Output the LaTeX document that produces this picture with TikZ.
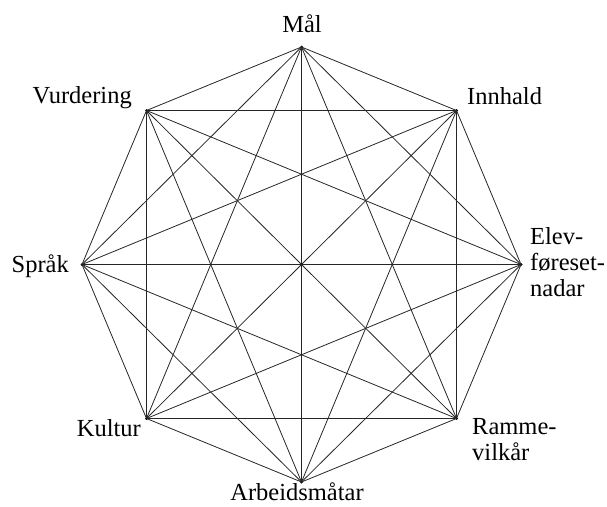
\documentclass[tikz,border=0pt]{standalone}
\usepackage{fontspec}
\setmainfont{Liberation Serif}
\begin{document}
\begin{tikzpicture}[x=1pt,y=-1pt,
  lbl/.style={inner sep=0pt, font=\fontsize{24.5}{26}\selectfont},
  edge/.style={line width=0.8pt, black!85},
  vdot/.style={circle, fill=black, inner sep=0pt, minimum size=3pt}]
\useasboundingbox (0,0) rectangle (607,506);
\node[vdot] (v1) at (301.5,47) {};
\node[vdot] (v2) at (456.5,110.5) {};
\node[vdot] (v3) at (521,264.5) {};
\node[vdot] (v4) at (456.5,418.5) {};
\node[vdot] (v5) at (301.5,482) {};
\node[vdot] (v6) at (146.5,418.5) {};
\node[vdot] (v7) at (82,264.5) {};
\node[vdot] (v8) at (146.5,110.5) {};
\foreach \a in {1,...,8}{
  \foreach \b in {1,...,8}{
    \ifnum\a<\b \draw[edge] (v\a.center) -- (v\b.center); \fi
  }
}
\node[lbl, anchor=base] (l1) at (302,32) {Mål};
\node[lbl, anchor=base west] (l2) at (467,104.5) {Innhald};
\node[lbl, anchor=west, align=left] (l3) at (530,262.6) {Elev-\\føreset-\\nadar};
\node[lbl, anchor=west, align=left] (l4) at (472,440) {Ramme-\\vilkår};
\node[lbl, anchor=base] (l5) at (297,500) {Arbeidsmåtar};
\node[lbl, anchor=base east] (l6) at (141,436) {Kultur};
\node[lbl, anchor=base east] (l7) at (69,272) {Språk};
\node[lbl, anchor=base east] (l8) at (132,103) {Vurdering};
\end{tikzpicture}
\end{document}
